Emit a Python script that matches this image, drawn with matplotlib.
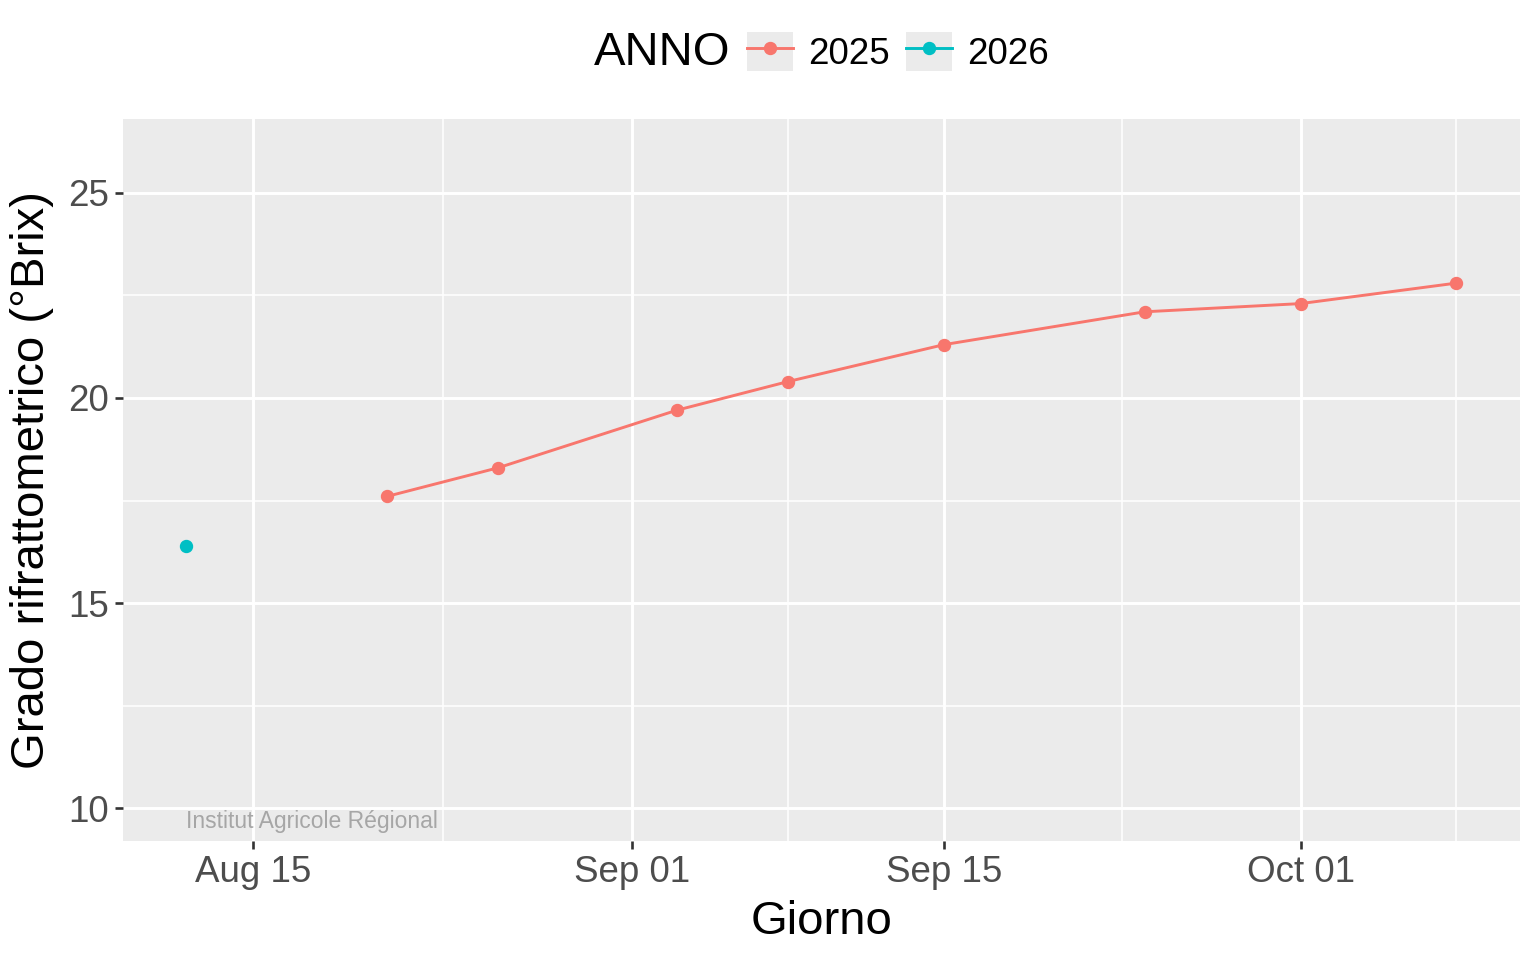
import matplotlib
matplotlib.use("Agg")
import matplotlib.pyplot as plt
from matplotlib.patches import Rectangle
from matplotlib.lines import Line2D
from matplotlib.legend_handler import HandlerTuple
import pandas as pd

# data (all seasons mapped onto a common calendar year)
dates_2025 = ["2025-08-21", "2025-08-26", "2025-09-03", "2025-09-08",
              "2025-09-15", "2025-09-24", "2025-10-01", "2025-10-08"]
brix_2025 = [17.6, 18.3, 19.7, 20.4, 21.3, 22.1, 22.3, 22.8]
dates_2026 = ["2025-08-12"]
brix_2026 = [16.4]

major_ticks = ["2025-08-15", "2025-09-01", "2025-09-15", "2025-10-01"]
major_labels = ["Aug 15", "Sep 01", "Sep 15", "Oct 01"]
minor_ticks = ["2025-08-23 12:00", "2025-09-08 00:00", "2025-09-23 00:00", "2025-10-08 00:00"]

COL_2025 = "#F8766D"
COL_2026 = "#00BFC4"

plt.rcParams['font.family'] = ['Liberation Sans', 'DejaVu Sans']

fig = plt.figure(figsize=(15.36, 9.6), dpi=100)
ax = fig.add_axes([123 / 1536, 1 - 841 / 960, (1520 - 123) / 1536, (841 - 119) / 960])
ax.set_facecolor("#EBEBEB")

d25 = pd.to_datetime(dates_2025)
d26 = pd.to_datetime(dates_2026)

ax.plot(d25, brix_2025, "-", color=COL_2025, lw=2.1, zorder=3)
ax.plot(d25, brix_2025, "o", color=COL_2025, ms=8.6, zorder=4)
ax.plot(d26, brix_2026, "o", color=COL_2026, ms=8.6, zorder=4)

# axis limits (ggplot 5% expansion)
x0 = pd.Timestamp("2025-08-12")
x1 = pd.Timestamp("2025-10-08")
span = x1 - x0
ax.set_xlim(x0 - span * 0.05, x1 + span * 0.05)
ax.set_ylim(9.2, 26.8)

ax.set_xticks(pd.to_datetime(major_ticks))
ax.set_xticklabels(major_labels)
ax.set_xticks(pd.to_datetime(minor_ticks), minor=True)
ax.set_yticks([10, 15, 20, 25])
ax.set_yticks([12.5, 17.5, 22.5], minor=True)

ax.grid(which="major", color="white", lw=2.1, zorder=0)
ax.grid(which="minor", color="white", lw=1.1, zorder=0)
ax.set_axisbelow(True)
for s in ax.spines.values():
    s.set_visible(False)
ax.tick_params(which="major", length=6, width=1.9, color="#333333",
               labelsize=26.5, labelcolor="#4D4D4D", pad=4)
ax.tick_params(which="minor", length=0)

ax.set_xlabel("Giorno", fontsize=34, labelpad=7)
ax.set_ylabel("Grado rifrattometrico (°Brix)", fontsize=34, labelpad=10)

# watermark
ax.text(d26[0], 9.95, "Institut Agricole Régional", ha="left", va="top",
        fontsize=16.5, color="#A6A6A6", zorder=2)

# legend on top, title to the left
fig.text(594 / 1536, 1 - 53 / 960, "ANNO", fontsize=34, ha="left", va="center")
h25 = (Rectangle((0, 0), 1, 1, facecolor="#EBEBEB", edgecolor="none"),
       Line2D([], [], color=COL_2025, lw=2.1, marker="o", ms=8.6))
h26 = (Rectangle((0, 0), 1, 1, facecolor="#EBEBEB", edgecolor="none"),
       Line2D([], [], color=COL_2026, lw=2.1, marker="o", ms=8.6))
fig.legend([h25, h26], ["2025", "2026"], handler_map={tuple: HandlerTuple(ndivide=1)},
           loc="center left", bbox_to_anchor=(747 / 1536, 1 - 52 / 960), ncol=2,
           frameon=False, fontsize=26.5, handlelength=1.25, handleheight=1.25,
           handletextpad=0.4, columnspacing=0.45, borderpad=0, borderaxespad=0)

fig.savefig("out.png", dpi=100)
